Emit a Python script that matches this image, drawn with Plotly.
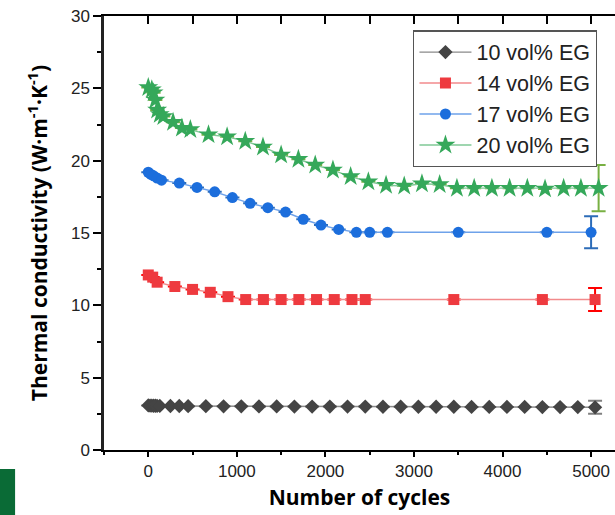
import plotly.graph_objects as go

# ---- data ----
cyc_10 = [0, 20, 40, 60, 80, 100, 130, 250, 350, 450, 650, 850, 1050, 1250, 1450, 1650,
          1850, 2050, 2250, 2450, 2650, 2850, 3050, 3250, 3450, 3650, 3850, 4050, 4250,
          4450, 4650, 4850, 5045]
tc_10 = [3.08, 3.07, 3.07, 3.06, 3.06, 3.05, 3.05, 3.04, 3.04, 3.03, 3.03, 3.02, 3.02, 3.01,
         3.01, 3.0, 3.0, 3.0, 3.0, 3.0, 2.99, 2.99, 2.99, 2.99, 2.99, 2.98, 2.98, 2.98, 2.98,
         2.97, 2.97, 2.97, 2.95]
err_10 = [None] * 32 + [0.45]

cyc_14 = [0, 50, 100, 300, 500, 700, 900, 1100, 1300, 1500, 1700, 1900, 2100, 2300, 2450,
          3450, 4450, 5045]
tc_14 = [12.1, 11.95, 11.6, 11.3, 11.1, 10.9, 10.6, 10.4, 10.4, 10.4, 10.4, 10.4, 10.4,
         10.4, 10.4, 10.4, 10.4, 10.4]
err_14 = [None] * 17 + [0.8]

cyc_17 = [0, 30, 60, 100, 150, 350, 550, 750, 950, 1150, 1350, 1550, 1750, 1950, 2150,
          2350, 2500, 2700, 3500, 4500, 5000]
tc_17 = [19.2, 19.05, 18.95, 18.8, 18.65, 18.45, 18.15, 17.85, 17.45, 17.05, 16.75, 16.45,
         15.95, 15.55, 15.25, 15.05, 15.05, 15.05, 15.05, 15.05, 15.05]
err_17 = [None] * 20 + [1.1]

cyc_20 = [0, 40, 60, 80, 100, 130, 170, 280, 380, 475, 680, 890, 1095, 1295, 1500, 1695,
          1885, 2085, 2285, 2485, 2685, 2890, 3090, 3290, 3485, 3680, 3880, 4080, 4280,
          4480, 4690, 4885, 5085]
tc_20 = [25.05, 24.9, 24.7, 24.2, 23.5, 23.2, 23.05, 22.65, 22.25, 22.15, 21.8, 21.65,
         21.35, 20.95, 20.4, 20.1, 19.7, 19.35, 18.9, 18.55, 18.3, 18.25, 18.4, 18.35, 18.1,
         18.1, 18.1, 18.1, 18.1, 18.05, 18.1, 18.1, 18.1]
err_20 = [None] * 32 + [1.6]

series = [
    ("10 vol% EG", cyc_10, tc_10, err_10, "#444444", "#8a8a8a", "diamond", 11, "#808080"),
    ("14 vol% EG", cyc_14, tc_14, err_14, "#ee3a3f", "#f28a8c", "square", 11, "#ff0000"),
    ("17 vol% EG", cyc_17, tc_17, err_17, "#1c6edc", "#6ea2ea", "circle", 11, "#2c6cb8"),
    ("20 vol% EG", cyc_20, tc_20, err_20, "#35a85a", "#7fc896", "star", 15, "#78b043"),
]

x_ticks = [0, 1000, 2000, 3000, 4000, 5000]
y_ticks = [0, 5, 10, 15, 20, 25, 30]

fig = go.Figure()
for name, xs, ys, es, mcol, lcol, sym, size, ecol in series:
    fig.add_trace(go.Scatter(
        x=xs, y=ys, name=name, mode="lines+markers",
        line=dict(color=lcol, width=1.4),
        marker=dict(symbol=sym, size=size, color=mcol, line=dict(width=0)),
        error_y=dict(type="data", array=es, visible=True, color=ecol, thickness=2, width=7),
    ))

# invisible helper trace for the top axis
fig.add_trace(go.Scatter(x=[x_ticks[0]], y=[y_ticks[0]], xaxis="x2", mode="markers",
                         marker=dict(opacity=0), showlegend=False, hoverinfo="skip"))

tickfont = dict(family="Liberation Sans, Arial", size=17, color="#222222")
fig.update_layout(
    width=615, height=515,
    margin=dict(l=104, r=0, t=16, b=65),
    paper_bgcolor="white", plot_bgcolor="white",
    showlegend=True,
    legend=dict(x=0.605, y=0.967, xanchor="left", yanchor="top",
                bgcolor="white", bordercolor="#555555", borderwidth=1.3,
                font=dict(family="Liberation Sans, Arial", size=21.5, color="#222222"),
                tracegroupgap=0, itemwidth=52),
    xaxis=dict(range=[-500, 5270], tickvals=x_ticks, ticks="outside", ticklen=5,
               tickwidth=1.5, tickcolor="black", showline=True, linecolor="black",
               linewidth=1.8, showgrid=False, zeroline=False, tickfont=tickfont,
               minor=dict(dtick=500, tick0=0, ticks="outside", ticklen=3, tickwidth=1.5,
                          tickcolor="black", showgrid=False),
               title=dict(text="<b>Number of cycles</b>", standoff=10,
                          font=dict(family="Open Sans", size=21, color="black"))),
    xaxis2=dict(range=[-500, 5270], overlaying="x", side="top", tickvals=x_ticks,
                ticks="inside", ticklen=8, tickwidth=1.5, tickcolor="black",
                showticklabels=False, showline=True, linecolor="black", linewidth=1.8,
                showgrid=False, zeroline=False,
                minor=dict(dtick=500, tick0=0, ticks="inside", ticklen=8, tickwidth=1.5,
                           tickcolor="black", showgrid=False)),
    yaxis=dict(range=[0, 30], tickvals=y_ticks, ticks="outside", ticklen=8, tickwidth=1.5,
               tickcolor="black", showline=True, linecolor="#222222", linewidth=2.5,
               showgrid=False, zeroline=False, tickfont=tickfont,
               minor=dict(dtick=2.5, tick0=0, ticks="outside", ticklen=4, tickwidth=1.5,
                          tickcolor="black", showgrid=False),
               title=dict(text="<b>Thermal conductivity (W·m<sup>-1</sup>·K<sup>-1</sup>)</b>",
                          standoff=18,
                          font=dict(family="Open Sans", size=21, color="black"))),
    shapes=[dict(type="rect", xref="paper", yref="paper", x0=-0.2035, x1=-0.174,
                 y0=-0.1498, y1=-0.0438, fillcolor="#0a6b36", line=dict(width=0),
                 layer="above")],
)

fig.write_html("out.html")
